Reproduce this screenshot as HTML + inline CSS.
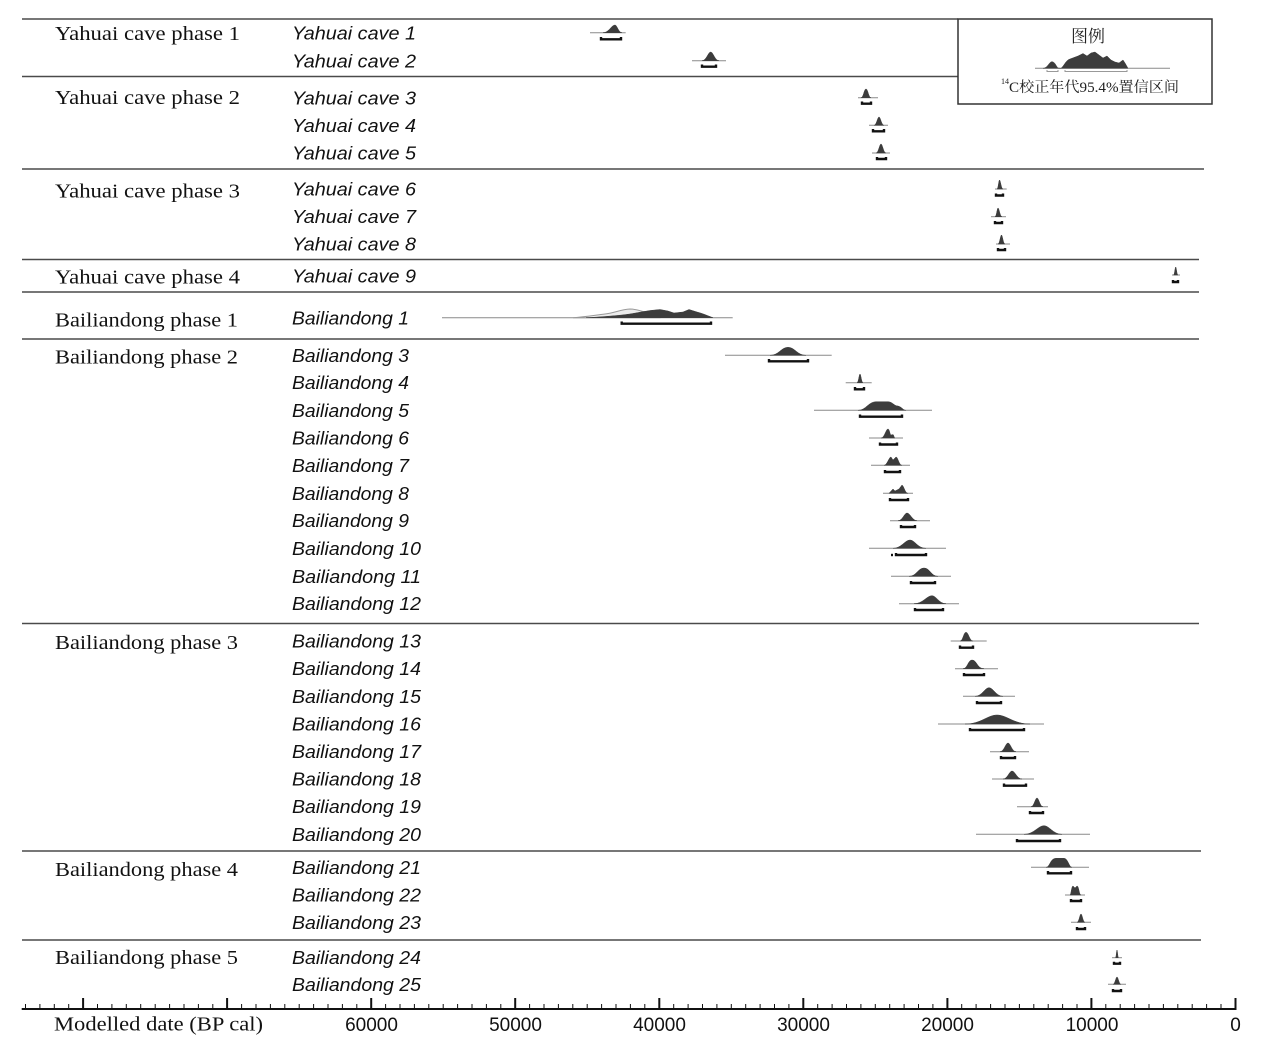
<!DOCTYPE html>
<html>
<head>
<meta charset="utf-8">
<style>
html,body{margin:0;padding:0;background:#fff;}
svg{display:block;}
.ph{font-family:"Liberation Serif","Noto Serif CJK SC",serif;font-size:20px;fill:#111;}
.it{font-family:"Liberation Sans",sans-serif;font-style:italic;font-size:18px;fill:#111;}
.tk{font-family:"Liberation Sans",sans-serif;font-size:19px;fill:#111;}
.sep{stroke:#4a4a4a;stroke-width:1.6;fill:none;}
.pr{stroke:#8a8a8a;stroke-width:1;fill:none;}
.d{fill:#3c3c3c;stroke:#3c3c3c;stroke-width:0.5;}
.bar{stroke:#111;stroke-width:2.4;fill:none;}
</style>
</head>
<body>
<svg width="1263" height="1048" viewBox="0 0 1263 1048" xmlns="http://www.w3.org/2000/svg">
<rect width="1263" height="1048" fill="#fff"/>

<!-- separators -->
<line class="sep" x1="22" y1="19" x2="958" y2="19"/>
<line class="sep" x1="22" y1="76.5" x2="958" y2="76.5"/>
<line class="sep" x1="22" y1="169" x2="1204" y2="169"/>
<line class="sep" x1="22" y1="259.5" x2="1199" y2="259.5"/>
<line class="sep" x1="22" y1="292" x2="1199" y2="292"/>
<line class="sep" x1="22" y1="339" x2="1199" y2="339"/>
<line class="sep" x1="22" y1="623.5" x2="1199" y2="623.5"/>
<line class="sep" x1="22" y1="851" x2="1201" y2="851"/>
<line class="sep" x1="22" y1="940" x2="1201" y2="940"/>

<!-- legend -->
<rect x="958" y="19" width="254" height="85" fill="#fff" stroke="#333" stroke-width="1.5"/>
<text x="1088" y="42" text-anchor="middle" style="font-family:'Liberation Serif','Noto Serif CJK SC',serif;font-size:17px;fill:#222;">图例</text>
<line class="pr" x1="1035" y1="68.3" x2="1170" y2="68.3" stroke="#aaa"/>
<path class="d" d="M1043,68.3 C1048,68 1049,61.7 1052,61.7 C1055,62 1056,66 1058,68 L1061,68.3 C1064,66 1066,60 1070,59 L1078,56 L1083,53.5 L1087,56 L1091,53 L1095,52 L1099,55 L1103,58 L1107,56 L1111,60 L1115,62 L1119,63 L1123,60 L1125,63 L1128,68.3Z" fill="#555" stroke="#555"/>
<path d="M1047,70 V71.5 H1058 V70 M1065,70 V71.5 H1127 V70" stroke="#999" stroke-width="1" fill="none"/>
<text x="1001" y="84" style="font-family:'Liberation Serif',serif;font-size:8px;fill:#222;">14</text>
<text x="1009" y="92" textLength="170" lengthAdjust="spacingAndGlyphs" style="font-family:'Liberation Serif','Noto Serif CJK SC',serif;font-size:14.5px;fill:#222;">C校正年代95.4%置信区间</text>

<!-- phase labels -->
<text class="ph" x="55" y="40" textLength="185" lengthAdjust="spacingAndGlyphs">Yahuai cave phase 1</text>
<text class="ph" x="55" y="104" textLength="185" lengthAdjust="spacingAndGlyphs">Yahuai cave phase 2</text>
<text class="ph" x="55" y="197.5" textLength="185" lengthAdjust="spacingAndGlyphs">Yahuai cave phase 3</text>
<text class="ph" x="55" y="283.3" textLength="185" lengthAdjust="spacingAndGlyphs">Yahuai cave phase 4</text>
<text class="ph" x="55" y="326.5" textLength="183" lengthAdjust="spacingAndGlyphs">Bailiandong phase 1</text>
<text class="ph" x="55" y="363.5" textLength="183" lengthAdjust="spacingAndGlyphs">Bailiandong phase 2</text>
<text class="ph" x="55" y="649" textLength="183" lengthAdjust="spacingAndGlyphs">Bailiandong phase 3</text>
<text class="ph" x="55" y="876" textLength="183" lengthAdjust="spacingAndGlyphs">Bailiandong phase 4</text>
<text class="ph" x="55" y="964" textLength="183" lengthAdjust="spacingAndGlyphs">Bailiandong phase 5</text>

<!-- item labels -->
<text class="it" x="292" y="39.5" textLength="124" lengthAdjust="spacingAndGlyphs">Yahuai cave 1</text>
<text class="it" x="292" y="67.3" textLength="124" lengthAdjust="spacingAndGlyphs">Yahuai cave 2</text>
<text class="it" x="292" y="104.3" textLength="124" lengthAdjust="spacingAndGlyphs">Yahuai cave 3</text>
<text class="it" x="292" y="131.8" textLength="124" lengthAdjust="spacingAndGlyphs">Yahuai cave 4</text>
<text class="it" x="292" y="159.5" textLength="124" lengthAdjust="spacingAndGlyphs">Yahuai cave 5</text>
<text class="it" x="292" y="195.5" textLength="124" lengthAdjust="spacingAndGlyphs">Yahuai cave 6</text>
<text class="it" x="292" y="223.2" textLength="124" lengthAdjust="spacingAndGlyphs">Yahuai cave 7</text>
<text class="it" x="292" y="250.5" textLength="124" lengthAdjust="spacingAndGlyphs">Yahuai cave 8</text>
<text class="it" x="292" y="282.5" textLength="124" lengthAdjust="spacingAndGlyphs">Yahuai cave 9</text>
<text class="it" x="292" y="324.3" textLength="117" lengthAdjust="spacingAndGlyphs">Bailiandong 1</text>
<text class="it" x="292" y="361.8" textLength="117" lengthAdjust="spacingAndGlyphs">Bailiandong 3</text>
<text class="it" x="292" y="389.2" textLength="117" lengthAdjust="spacingAndGlyphs">Bailiandong 4</text>
<text class="it" x="292" y="416.8" textLength="117" lengthAdjust="spacingAndGlyphs">Bailiandong 5</text>
<text class="it" x="292" y="444.5" textLength="117" lengthAdjust="spacingAndGlyphs">Bailiandong 6</text>
<text class="it" x="292" y="471.8" textLength="117" lengthAdjust="spacingAndGlyphs">Bailiandong 7</text>
<text class="it" x="292" y="499.8" textLength="117" lengthAdjust="spacingAndGlyphs">Bailiandong 8</text>
<text class="it" x="292" y="527.2" textLength="117" lengthAdjust="spacingAndGlyphs">Bailiandong 9</text>
<text class="it" x="292" y="554.8" textLength="129" lengthAdjust="spacingAndGlyphs">Bailiandong 10</text>
<text class="it" x="292" y="582.8" textLength="129" lengthAdjust="spacingAndGlyphs">Bailiandong 11</text>
<text class="it" x="292" y="610.2" textLength="129" lengthAdjust="spacingAndGlyphs">Bailiandong 12</text>
<text class="it" x="292" y="647.5" textLength="129" lengthAdjust="spacingAndGlyphs">Bailiandong 13</text>
<text class="it" x="292" y="675.2" textLength="129" lengthAdjust="spacingAndGlyphs">Bailiandong 14</text>
<text class="it" x="292" y="702.8" textLength="129" lengthAdjust="spacingAndGlyphs">Bailiandong 15</text>
<text class="it" x="292" y="730.5" textLength="129" lengthAdjust="spacingAndGlyphs">Bailiandong 16</text>
<text class="it" x="292" y="758.2" textLength="129" lengthAdjust="spacingAndGlyphs">Bailiandong 17</text>
<text class="it" x="292" y="785.5" textLength="129" lengthAdjust="spacingAndGlyphs">Bailiandong 18</text>
<text class="it" x="292" y="813.2" textLength="129" lengthAdjust="spacingAndGlyphs">Bailiandong 19</text>
<text class="it" x="292" y="840.8" textLength="129" lengthAdjust="spacingAndGlyphs">Bailiandong 20</text>
<text class="it" x="292" y="873.8" textLength="129" lengthAdjust="spacingAndGlyphs">Bailiandong 21</text>
<text class="it" x="292" y="901.5" textLength="129" lengthAdjust="spacingAndGlyphs">Bailiandong 22</text>
<text class="it" x="292" y="928.8" textLength="129" lengthAdjust="spacingAndGlyphs">Bailiandong 23</text>
<text class="it" x="292" y="964.2" textLength="129" lengthAdjust="spacingAndGlyphs">Bailiandong 24</text>
<text class="it" x="292" y="990.8" textLength="129" lengthAdjust="spacingAndGlyphs">Bailiandong 25</text>

<!-- prior lines -->
<g class="pr">
<line x1="590" y1="32.7" x2="625.7" y2="32.7"/>
<line x1="692" y1="60.7" x2="726" y2="60.7"/>
<line x1="858" y1="97.7" x2="878" y2="97.7"/>
<line x1="869" y1="125.3" x2="888" y2="125.3"/>
<line x1="872" y1="153" x2="890" y2="153"/>
<line x1="995" y1="189" x2="1006.7" y2="189"/>
<line x1="991" y1="216.7" x2="1006" y2="216.7"/>
<line x1="996" y1="244" x2="1010" y2="244"/>
<line x1="1172" y1="275" x2="1180" y2="275"/>
<line x1="442" y1="317.7" x2="732.7" y2="317.7"/>
<line x1="725" y1="355.3" x2="831.7" y2="355.3"/>
<line x1="845.7" y1="382.7" x2="871.7" y2="382.7"/>
<line x1="814" y1="410.3" x2="932" y2="410.3"/>
<line x1="869" y1="438" x2="903" y2="438"/>
<line x1="871" y1="465.3" x2="910" y2="465.3"/>
<line x1="883" y1="493.3" x2="913" y2="493.3"/>
<line x1="890" y1="520.7" x2="930" y2="520.7"/>
<line x1="869" y1="548.3" x2="946" y2="548.3"/>
<line x1="891" y1="576.3" x2="951" y2="576.3"/>
<line x1="899" y1="603.7" x2="959" y2="603.7"/>
<line x1="950.7" y1="641" x2="986.7" y2="641"/>
<line x1="955" y1="668.7" x2="998" y2="668.7"/>
<line x1="963" y1="696.3" x2="1015" y2="696.3"/>
<line x1="938" y1="724" x2="1044" y2="724"/>
<line x1="990" y1="751.7" x2="1029" y2="751.7"/>
<line x1="992" y1="779" x2="1034" y2="779"/>
<line x1="1017" y1="806.7" x2="1048" y2="806.7"/>
<line x1="976" y1="834.3" x2="1090" y2="834.3"/>
<line x1="1031" y1="867.3" x2="1089" y2="867.3"/>
<line x1="1065" y1="895" x2="1085" y2="895"/>
<line x1="1071" y1="922.3" x2="1091" y2="922.3"/>
<line x1="1112" y1="957.7" x2="1122" y2="957.7"/>
<line x1="1108" y1="984.3" x2="1126" y2="984.3"/>
</g>

<!-- BD1 light outline -->
<path d="M573,317.7 C585,317 593,315.5 605,314 C615,313 620,309.5 630,309 C636,309 640,311 648,312.5 L660,313 L660,317.7Z" fill="#ececec" stroke="#999" stroke-width="1"/>

<!-- distributions -->
<g class="d">
<path d="M603,32.7 C609,32.7 611.4,25 615,25 C617.1,25 618.5,32.7 622,32.7Z"/>
<path d="M702,60.7 C706.4,60.7 708.1,52 710.7,52 C713.2,52 714.9,60.7 719,60.7Z"/>
<path d="M861,97.7 C863.5,97.7 864,89 866,89 C868,89 868.5,97.7 871,97.7Z"/>
<path d="M874,125.3 C876.5,125.3 877.5,117 879,117 C880.5,117 881.5,125.3 884,125.3Z"/>
<path d="M876,153 C878.5,153 879.5,144 881,144 C882.5,144 883.5,153 886,153Z"/>
<path d="M997,189 C998.2,189 998.7,180 999.5,180 C1000.5,180 1001.2,189 1003,189Z"/>
<path d="M995,216.7 C996.5,216.7 997.1,208 998,208 C999.2,208 1000,216.7 1002,216.7Z"/>
<path d="M998,244 C999.7,244 1000.4,235 1001.5,235 C1002.5,235 1003.2,244 1005,244Z"/>
<path d="M1173.5,275 C1174.6,275 1175,267 1175.7,267 C1176.4,267 1176.8,275 1178,275Z"/>
<path d="M586,317.7 C600,317 612,316 622,315 C632,314 640,312 650,310.5 L660,309.5 L668,311 L674,313 L683,312 L689,309.5 L697,312 C703,313.5 707,315.5 713,317.7Z"/>
<path d="M770,355.3 C779,355.3 781,347.3 788,347.3 C795,347.3 797,355.3 806,355.3Z"/>
<path d="M857,382.7 C858.5,382.7 859.1,374 860,374 C860.9,374 861.5,382.7 863,382.7Z"/>
<path d="M858,410.3 C866,410.3 868,402 876,401.7 L888,401.7 C893,402 894,406 898,406 C902,407 903,410.3 906,410.3Z"/>
<path d="M881,438 C884.5,438 885.9,429 888,429 C889.5,429 890,435 891,435 L893,434.5 C894,435 894,438 895,438Z"/>
<path d="M884,465.3 C887,465.3 889,457 891,457 L893,460 L896,457 C898,457 899,465.3 902,465.3Z"/>
<path d="M889,493.3 L893,489 L895,491 L899,489 L902,485 C904,486 905,493.3 908,493.3Z"/>
<path d="M898,520.7 C902.5,520.7 904.3,513 907,513 C910,513 912.5,520.7 917,520.7Z"/>
<path d="M893,548.3 C901.5,548.3 904.9,540 910,540 C914.8,540 917.5,548.3 926,548.3Z"/>
<path d="M909,576.3 C916.5,576.3 918,568 924,568 C930,568 931,576.3 938,576.3Z"/>
<path d="M914,603.7 C923,603.7 926.6,595.7 932,595.7 C936.2,595.7 939,603.7 946,603.7Z"/>
<path d="M960,641 C963,641 963.5,632.3 966,632.3 C968.5,632.3 969.5,641 973,641Z"/>
<path d="M963,668.7 C967.5,668.7 968,660 972,660 C977,660 977,668.7 984,668.7Z"/>
<path d="M975,696.3 C982,696.3 984.8,687.7 989,687.7 C993.2,687.7 996,696.3 1003,696.3Z"/>
<path d="M965,724 C981,724 987.4,715 997,715 C1006.9,715 1013.5,724 1030,724Z"/>
<path d="M1000,751.7 C1004,751.7 1005.6,743 1008,743 C1010.4,743 1012,751.7 1016,751.7Z"/>
<path d="M1003,779 C1007.5,779 1009.3,771 1012,771 C1015,771 1017,779 1022,779Z"/>
<path d="M1031,806.7 C1034,806.7 1035.2,798 1037,798 C1038.8,798 1040,806.7 1043,806.7Z"/>
<path d="M1024,834.3 C1034,834.3 1038,825.7 1044,825.7 C1049.4,825.7 1053,834.3 1062,834.3Z"/>
<path d="M1046,867.3 C1050,867.3 1050,858.3 1056,858.3 L1064,858.3 C1068,858.3 1069,867.3 1072,867.3Z"/>
<path d="M1070,895 C1071,895 1071.5,886 1073,886 L1075,888 L1077,886 C1079,886 1079,895 1081,895Z"/>
<path d="M1077,922.3 C1079,922.3 1079.8,914 1081,914 C1082.2,914 1083,922.3 1085,922.3Z"/>
<path d="M1115.5,957.7 C1116.2,957.7 1116.5,950 1117,950 C1117.5,950 1117.8,957.7 1118.5,957.7Z"/>
<path d="M1113,984.3 C1115,984.3 1115.8,977 1117,977 C1118.2,977 1119,984.3 1121,984.3Z"/>
</g>

<!-- bars -->
<g class="bar">
<path d="M601,37 V39.3 H621 V37"/>
<path d="M702,64.5 V66.7 H716 V64.5"/>
<path d="M862,101.5 V103.7 H871 V101.5"/>
<path d="M873,129 V131.3 H884 V129"/>
<path d="M877,157 V159 H886 V157"/>
<path d="M996,193.5 V195.5 H1003 V193.5"/>
<path d="M995,221 V223 H1002 V221"/>
<path d="M998,248 V250 H1005 V248"/>
<path d="M1173,280 V282 H1178 V280"/>
<path d="M621.7,321.5 V323.7 H711 V321.5"/>
<path d="M769,359 V361.3 H808 V359"/>
<path d="M855,387 V389.3 H864 V387"/>
<path d="M860,414.5 V416.7 H902 V414.5"/>
<path d="M880,442.5 V444.5 H897 V442.5"/>
<path d="M885,470 V472 H900 V470"/>
<path d="M890,498 V500 H908 V498"/>
<path d="M901,525 V527 H915 V525"/>
<path d="M896,553 V555 H926 V553"/>
<path d="M891,555 H893"/>
<path d="M911,581 V583 H935 V581"/>
<path d="M915,608 V610 H943 V608"/>
<path d="M960,645.5 V647.7 H973 V645.5"/>
<path d="M964,673 V675 H984 V673"/>
<path d="M977,701 V703 H1001 V701"/>
<path d="M970,728 V730 H1024 V728"/>
<path d="M1001,756 V758 H1015 V756"/>
<path d="M1004,783.5 V785.7 H1026 V783.5"/>
<path d="M1030,811 V813 H1043 V811"/>
<path d="M1017,839 V841 H1060 V839"/>
<path d="M1048,871 V873.3 H1071 V871"/>
<path d="M1071,899 V901 H1081 V899"/>
<path d="M1077,927 V929 H1085 V927"/>
<path d="M1114,961.7 V963.7 H1120 V961.7"/>
<path d="M1113,989 V991 H1121 V989"/>
</g>

<!-- axis -->
<line x1="21.7" y1="1009" x2="1236.5" y2="1009" stroke="#111" stroke-width="2"/>
<g stroke="#111" stroke-width="1">
<path d="M25.5,1004V1009 M39.9,1004V1009 M54.3,1004V1009 M68.7,1004V1009 M97.5,1004V1009 M111.9,1004V1009 M126.3,1004V1009 M140.7,1004V1009 M155.2,1004V1009 M169.6,1004V1009 M184,1004V1009 M198.4,1004V1009 M212.8,1004V1009 M241.6,1004V1009 M256,1004V1009 M270.4,1004V1009 M284.8,1004V1009 M299.2,1004V1009 M313.6,1004V1009 M328,1004V1009 M342.4,1004V1009 M356.8,1004V1009 M385.6,1004V1009 M400,1004V1009 M414.4,1004V1009 M428.8,1004V1009 M443.2,1004V1009 M457.6,1004V1009 M472,1004V1009 M486.4,1004V1009 M500.8,1004V1009 M529.6,1004V1009 M544,1004V1009 M558.4,1004V1009 M572.8,1004V1009 M587.2,1004V1009 M601.6,1004V1009 M616,1004V1009 M630.4,1004V1009 M644.8,1004V1009 M673.7,1004V1009 M688.1,1004V1009 M702.5,1004V1009 M716.9,1004V1009 M731.3,1004V1009 M745.7,1004V1009 M760.1,1004V1009 M774.5,1004V1009 M788.9,1004V1009 M817.7,1004V1009 M832.1,1004V1009 M846.5,1004V1009 M860.9,1004V1009 M875.3,1004V1009 M889.7,1004V1009 M904.1,1004V1009 M918.5,1004V1009 M932.9,1004V1009 M961.7,1004V1009 M976.1,1004V1009 M990.6,1004V1009 M1005,1004V1009 M1019.4,1004V1009 M1033.8,1004V1009 M1048.2,1004V1009 M1062.6,1004V1009 M1077,1004V1009 M1105.8,1004V1009 M1120.2,1004V1009 M1134.6,1004V1009 M1149,1004V1009 M1163.4,1004V1009 M1177.8,1004V1009 M1192.2,1004V1009 M1206.6,1004V1009 M1221,1004V1009"/>
</g>
<g stroke="#111" stroke-width="2">
<path d="M83.1,998V1009 M227.1,998V1009 M371.2,998V1009 M515.2,998V1009 M659.3,998V1009 M803.3,998V1009 M947.4,998V1009 M1091.4,998V1009 M1235.5,998V1009"/>
</g>
<text class="ph" x="54" y="1030.5" textLength="209" lengthAdjust="spacingAndGlyphs">Modelled date (BP cal)</text>
<text class="tk" x="371.5" y="1031" text-anchor="middle">60000</text>
<text class="tk" x="515.5" y="1031" text-anchor="middle">50000</text>
<text class="tk" x="659.5" y="1031" text-anchor="middle">40000</text>
<text class="tk" x="803.5" y="1031" text-anchor="middle">30000</text>
<text class="tk" x="947.5" y="1031" text-anchor="middle">20000</text>
<text class="tk" x="1092" y="1031" text-anchor="middle">10000</text>
<text class="tk" x="1235.5" y="1031" text-anchor="middle">0</text>
</svg>
</body>
</html>
